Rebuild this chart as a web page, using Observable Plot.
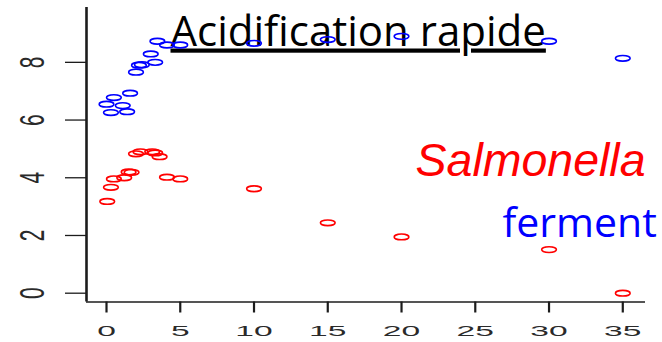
<!DOCTYPE html>
<html>
<head>
<meta charset="utf-8">
<script src="https://cdn.jsdelivr.net/npm/d3@7"></script>
<script src="https://cdn.jsdelivr.net/npm/@observablehq/plot@0.6"></script>
<style>
  html, body { margin: 0; padding: 0; background: #fff; }
  #chart svg { display: block; }
</style>
</head>
<body>
<div id="chart"></div>
<script>
// ---- data ----
const xTicks = [0, 5, 10, 15, 20, 25, 30, 35];
const yTicks = [0, 2, 4, 6, 8];

// "ferment" series (blue)
const fermentTime = [0.0, 0.3, 0.5, 1.1, 1.4, 1.6, 2.0, 2.2, 2.4, 3.0, 3.3, 3.45, 4.1, 5.0, 10, 15, 20, 30, 35];
const fermentPH   = [6.55, 6.26, 6.78, 6.50, 6.29, 6.93, 7.66, 7.90, 7.92, 8.29, 8.00, 8.73, 8.60, 8.60, 8.66, 8.79, 8.90, 8.73, 8.14];

// "Salmonella" series (red)
const salmTime = [0.05, 0.3, 0.5, 1.2, 1.5, 1.7, 2.0, 2.3, 3.1, 3.3, 3.6, 4.1, 5.0, 10, 15, 20, 30, 35];
const salmPH   = [3.18, 3.67, 3.96, 4.00, 4.20, 4.19, 4.83, 4.90, 4.90, 4.86, 4.73, 4.02, 3.96, 3.62, 2.44, 1.95, 1.51, 0.00];

const titleText = "Acidification rapide";
const salmLabel = "Salmonella";
const fermLabel = "ferment";

// ---- build table ----
const fermentData = fermentTime.map((t, i) => ({t, v: fermentPH[i]}));
const salmData = salmTime.map((t, i) => ({t, v: salmPH[i]}));

const xDomain = [-1.356, 36.54];
const yDomain = [-0.305, 9.90];
const axisColor = "#1c1c1c";
const labColor = "#2a2a2a";

// horizontally stretched open ellipse marker
const ellipse = {
  draw(ctx, size) {
    const r = Math.sqrt(size / Math.PI);
    const rx = r * 2.45, ry = r * 0.95, k = 0.5523;
    ctx.moveTo(rx, 0);
    ctx.bezierCurveTo(rx, k * ry, k * rx, ry, 0, ry);
    ctx.bezierCurveTo(-k * rx, ry, -rx, k * ry, -rx, 0);
    ctx.bezierCurveTo(-rx, -k * ry, -k * rx, -ry, 0, -ry);
    ctx.bezierCurveTo(k * rx, -ry, rx, -k * ry, rx, 0);
    ctx.closePath();
  }
};

const chart = Plot.plot({
  width: 662,
  height: 342,
  marginLeft: 86,
  marginRight: 17,
  marginTop: 7,
  marginBottom: 40.5,
  style: {background: "#fff", overflow: "visible"},
  x: {domain: xDomain},
  y: {domain: yDomain},
  marks: [
    Plot.text([titleText], {
      frameAnchor: "top-left", textAnchor: "start", lineAnchor: "bottom",
      dx: 84, dy: 38, fontSize: 42, fontFamily: "Open Sans", fill: "#000"
    }),
    Plot.text([salmLabel], {
      frameAnchor: "top-left", textAnchor: "start", lineAnchor: "bottom",
      dx: 329, dy: 168, fontSize: 46.5, fontStyle: "italic",
      fontFamily: "Liberation Sans", fill: "#ff0000"
    }),
    Plot.text([fermLabel], {
      frameAnchor: "top-left", textAnchor: "start", lineAnchor: "bottom",
      dx: 416, dy: 229.7, fontSize: 41, fontFamily: "Open Sans", fill: "#0000ff"
    }),
    Plot.axisX({ticks: xTicks, tickSize: 11, tickFormat: () => "", stroke: axisColor, strokeWidth: 2.2, label: null}),
    Plot.axisY({ticks: yTicks, tickSize: 21, tickFormat: () => "", stroke: axisColor, strokeWidth: 1.3, label: null}),
    Plot.ruleX([xDomain[0]], {stroke: axisColor, strokeWidth: 2.6}),
    Plot.ruleY([yDomain[0]], {stroke: axisColor, strokeWidth: 1.4}),
    Plot.text(xTicks, {
      x: d => d, frameAnchor: "bottom", dy: 30, lineAnchor: "middle", textAnchor: "middle",
      fontSize: 14, fontFamily: "Liberation Sans", fill: labColor
    }),
    Plot.text(yTicks, {
      y: d => d, frameAnchor: "left", dx: -54, lineAnchor: "middle", textAnchor: "middle",
      rotate: -90, fontSize: 14, fontFamily: "Liberation Sans", fill: labColor
    }),
    Plot.dot(salmData, {x: "t", y: "v", symbol: ellipse, r: 3, stroke: "#ff0000", strokeWidth: 1.6, fill: "none"}),
    Plot.dot(fermentData, {x: "t", y: "v", symbol: ellipse, r: 3, stroke: "#0000ff", strokeWidth: 1.6, fill: "none"})
  ]
});

document.getElementById("chart").appendChild(chart);

// styling touches: underline title, stretch tick labels like the original raster
function stretch(t, extra) {
  let tr = t.getAttribute("transform");
  if (!tr) tr = `translate(${t.getAttribute("x") || 0},${t.getAttribute("y") || 0})`;
  if (tr.includes("rotate(")) tr = tr.replace("rotate(", extra + " rotate(");
  else tr = tr + " " + extra;
  t.setAttribute("transform", tr);
}
chart.querySelectorAll("text").forEach(t => {
  const s = t.textContent.trim();
  if (s === titleText) {
    t.setAttribute("text-decoration", "underline");
    t.style.textDecoration = "underline";
    return;
  }
  if (!/^\d+$/.test(s)) return;
  const tr = t.getAttribute("transform") || "";
  if (tr.includes("rotate(")) stretch(t, "scale(2.5,1.5)");
  else stretch(t, "scale(2.4,1)");
});
</script>
</body>
</html>
